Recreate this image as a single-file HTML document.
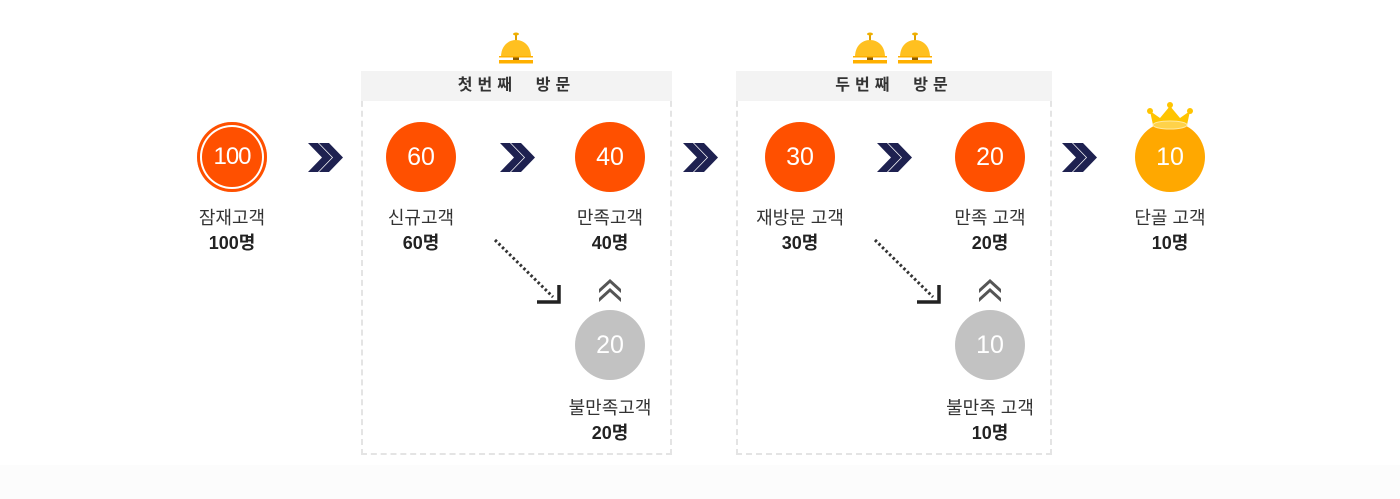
<!DOCTYPE html>
<html><head><meta charset="utf-8"><style>
*{margin:0;padding:0;box-sizing:border-box}
body{width:1400px;height:499px;background:#fff;position:relative;overflow:hidden;font-family:"Liberation Sans","Noto Sans CJK KR",sans-serif;color:#333}
.bot{position:absolute;left:0;top:465px;width:1400px;height:34px;background:#fcfcfc}
.box{position:absolute;top:71px;height:384px;border:2px dashed #e4e4e4;border-top:none}
.hdr{position:absolute;top:71px;height:30px;background:#f3f3f3;text-align:center;font-size:16px;font-weight:bold;line-height:30px;letter-spacing:5px;color:#333}
.c{position:absolute;width:70px;height:70px;border-radius:50%;color:#fff;font-size:25px;text-align:center;line-height:70px;background:#ff5000}
.g{background:#c2c2c2}
.lab{position:absolute;width:160px;text-align:center;font-size:18px;line-height:25px;color:#333}
.lab b{font-weight:bold;color:#222}
svg{position:absolute;left:0;top:0}
</style></head><body>
<div class="bot"></div>
<div class="box" style="left:361px;width:311px"></div>
<div class="hdr" style="left:361px;width:311px">첫번째 &nbsp;방문</div>
<div class="box" style="left:736px;width:316px"></div>
<div class="hdr" style="left:736px;width:316px">두번째 &nbsp;방문</div>

<div class="c" style="left:197px;top:122px;font-size:24px;letter-spacing:-1px;box-shadow:inset 0 0 0 3px #ff5000,inset 0 0 0 5px #fff">100</div>
<div class="c" style="left:386px;top:122px">60</div>
<div class="c" style="left:575px;top:122px">40</div>
<div class="c" style="left:765px;top:122px">30</div>
<div class="c" style="left:955px;top:122px">20</div>
<div class="c" style="left:1135px;top:122px;background:#ffa800">10</div>
<div class="c g" style="left:575px;top:310px">20</div>
<div class="c g" style="left:955px;top:310px">10</div>

<div class="lab" style="left:152px;top:206px">잠재고객<br><b>100명</b></div>
<div class="lab" style="left:341px;top:206px">신규고객<br><b>60명</b></div>
<div class="lab" style="left:530px;top:206px">만족고객<br><b>40명</b></div>
<div class="lab" style="left:720px;top:206px">재방문 고객<br><b>30명</b></div>
<div class="lab" style="left:910px;top:206px">만족 고객<br><b>20명</b></div>
<div class="lab" style="left:1090px;top:206px">단골 고객<br><b>10명</b></div>
<div class="lab" style="left:530px;top:396px">불만족고객<br><b>20명</b></div>
<div class="lab" style="left:910px;top:396px">불만족 고객<br><b>10명</b></div>

<svg width="1400" height="499">
<defs>
<g id="ch"><path d="M0,0h10l14,14.5l-14,14.5h-10l14,-14.5z" fill="#1e2150"/><path d="M11,0h10l14,14.5l-14,14.5h-10l14,-14.5z" fill="#1e2150"/></g>
<g id="up"><path d="M-11,8l11,-10l11,10l0,4l-11,-10l-11,10z" fill="#555"/><path d="M-11,17l11,-10l11,10l0,4l-11,-10l-11,10z" fill="#555"/></g>
<g id="bell"><rect x="-1" y="-24" width="2" height="6" fill="#e0a000"/><ellipse cx="0" cy="-25" rx="3" ry="1.5" fill="#f0b000"/><path d="M-15,-2C-15,-13 -8,-19 0,-19C8,-19 15,-13 15,-2z" fill="#ffc020"/><rect x="-3" y="-2" width="6" height="3" fill="#8a5a00"/><rect x="-17" y="1" width="34" height="3.5" fill="#ffb000"/><rect x="-17" y="-3" width="34" height="1.5" fill="#ffb000"/></g>
</defs>
<use href="#ch" x="308" y="143"/><use href="#ch" x="500" y="143"/><use href="#ch" x="683" y="143"/><use href="#ch" x="877" y="143"/><use href="#ch" x="1062" y="143"/>
<use href="#bell" x="516" y="59"/><use href="#bell" x="870" y="59"/><use href="#bell" x="915" y="59"/>
<path d="M495,240L553,297" stroke="#333" stroke-width="3" stroke-dasharray="2.5,2.5"/>
<path d="M537,302h22v-17" fill="none" stroke="#222" stroke-width="3.5"/>
<path d="M875,240L933,297" stroke="#333" stroke-width="3" stroke-dasharray="2.5,2.5"/>
<path d="M917,302h22v-17" fill="none" stroke="#222" stroke-width="3.5"/>
<use href="#up" x="610" y="281"/><use href="#up" x="990" y="281"/>
<g fill="#ffc400"><path d="M1153,125l-3,-14l10,7l10,-12l10,12l10,-7l-3,14z"/><circle cx="1150" cy="111" r="3"/><circle cx="1170" cy="105" r="3"/><circle cx="1190" cy="111" r="3"/></g>
<ellipse cx="1170" cy="125" rx="17" ry="4" fill="#ffd24a" stroke="#ffe9a0" stroke-width="1"/>
</svg>
</body></html>
